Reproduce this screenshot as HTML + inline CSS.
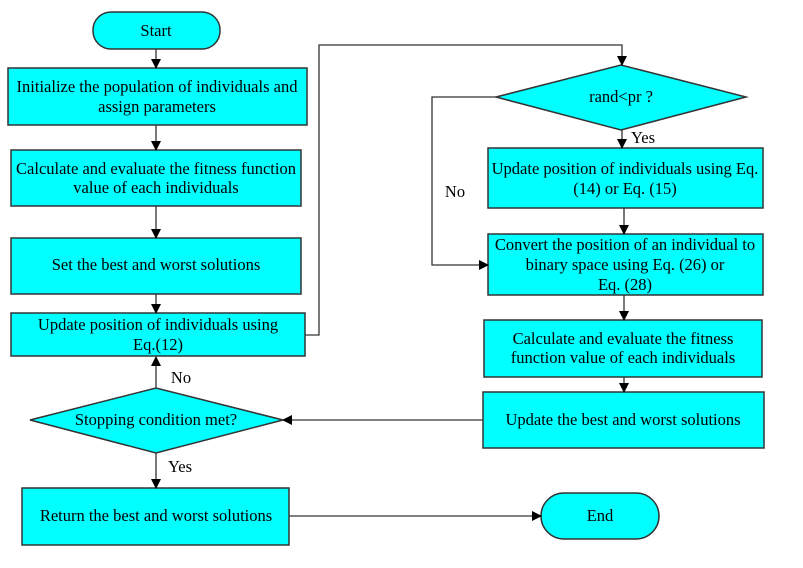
<!DOCTYPE html>
<html><head><meta charset="utf-8"><style>
body{margin:0;background:#fff}
svg text{font-family:"Liberation Serif",serif;font-size:16.5px;fill:#000;text-anchor:middle}
</style></head><body>
<svg width="803" height="563" viewBox="0 0 803 563">
<defs><marker id="a" markerWidth="10" markerHeight="10" refX="9" refY="5" orient="auto" markerUnits="userSpaceOnUse"><path d="M0,0 L10,5 L0,10 z" fill="#000"/></marker></defs>
<g fill="#00ffff" stroke="#333" stroke-width="1.5">
<rect x="93" y="12" width="127" height="37" rx="18"/>
<rect x="8" y="68" width="299" height="57"/>
<rect x="11" y="150" width="290" height="56"/>
<rect x="11" y="238" width="290" height="56"/>
<rect x="11" y="313" width="294" height="43"/>
<polygon points="496,97 621,65 746,97 621,130"/>
<rect x="488" y="148" width="275" height="60"/>
<rect x="488" y="234" width="275" height="61"/>
<rect x="484" y="320" width="278" height="57"/>
<rect x="483" y="392" width="281" height="56"/>
<polygon points="30,420 156,388 283,420 156,453"/>
<rect x="22" y="488" width="267" height="57"/>
<rect x="541" y="493" width="118" height="46" rx="23"/>
</g>
<g stroke="#333" stroke-width="1.3" fill="none">
<line x1="156" y1="49" x2="156" y2="68" marker-end="url(#a)"/>
<line x1="156" y1="125" x2="156" y2="150" marker-end="url(#a)"/>
<line x1="156" y1="206" x2="156" y2="238" marker-end="url(#a)"/>
<line x1="156" y1="294" x2="156" y2="313" marker-end="url(#a)"/>
<polyline points="305,335 319,335 319,45 622,45 622,65" marker-end="url(#a)"/>
<polyline points="496,97 432,97 432,265 488,265" marker-end="url(#a)"/>
<line x1="622" y1="130" x2="622" y2="148" marker-end="url(#a)"/>
<line x1="624" y1="208" x2="624" y2="234" marker-end="url(#a)"/>
<line x1="624" y1="295" x2="624" y2="320" marker-end="url(#a)"/>
<line x1="624" y1="377" x2="624" y2="392" marker-end="url(#a)"/>
<line x1="483" y1="420" x2="283" y2="420" marker-end="url(#a)"/>
<line x1="156" y1="388" x2="156" y2="357" marker-end="url(#a)"/>
<line x1="156" y1="453" x2="156" y2="488" marker-end="url(#a)"/>
<line x1="289" y1="516" x2="541" y2="516" marker-end="url(#a)"/>
</g>
<text x="156" y="36">Start</text>
<text x="157" y="92">Initialize the population of  individuals and</text>
<text x="157" y="112">assign  parameters</text>
<text x="156" y="174">Calculate and evaluate the fitness function</text>
<text x="156" y="193">value of each individuals</text>
<text x="156" y="270">Set the best and worst solutions</text>
<text x="158" y="330">Update position of individuals using</text>
<text x="158" y="350">Eq.(12)</text>
<text x="621" y="102">rand&lt;pr ?</text>
<text x="643" y="143">Yes</text>
<text x="455" y="197">No</text>
<text x="625" y="174">Update position of individuals using Eq.</text>
<text x="625" y="194">(14) or Eq. (15)</text>
<text x="625" y="250">Convert the position of an individual to</text>
<text x="625" y="270">binary space using Eq. (26) or</text>
<text x="625" y="290">Eq. (28)</text>
<text x="623" y="344">Calculate and evaluate the fitness</text>
<text x="623" y="363">function value of each individuals</text>
<text x="623" y="425">Update the best and worst solutions</text>
<text x="156" y="425">Stopping condition met?</text>
<text x="181" y="383">No</text>
<text x="180" y="472">Yes</text>
<text x="156" y="521">Return the best and worst solutions</text>
<text x="600" y="521">End</text>
</svg>
</body></html>
